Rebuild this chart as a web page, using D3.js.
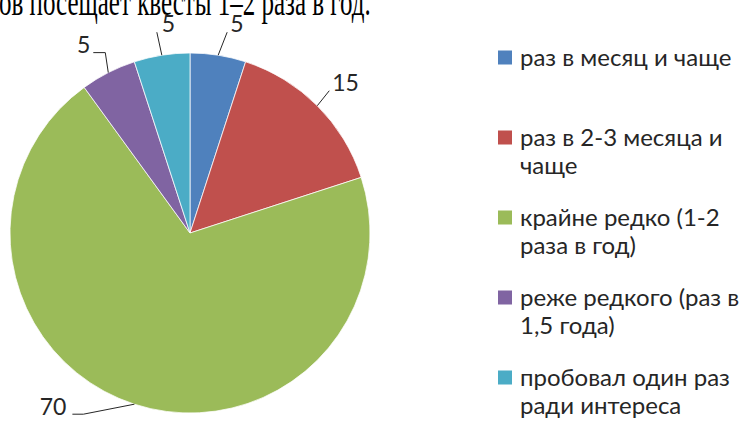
<!DOCTYPE html>
<meta charset="utf-8">
<style>
body { margin: 0; background: #fff; }
svg text { font-family: Lato, "Open Sans", sans-serif; fill: #262626; }
.caption { font-family: "Liberation Serif", "Times New Roman", serif; fill: #000; }
.leader { fill: none; stroke: #262626; stroke-width: 1; }
</style>
<body>
<script src="https://d3js.org/d3.v7.min.js"></script>
<script>
// data
var categories = ["раз в месяц и чаще", "раз в 2-3 месяца и чаще", "крайне редко (1-2 раза в год)",
                  "реже редкого (раз в 1,5 года)", "пробовал один раз ради интереса"];
var legendLines = [["раз в месяц и чаще"], ["раз в 2-3 месяца и", "чаще"], ["крайне редко (1-2", "раза в год)"],
                   ["реже редкого (раз в", "1,5 года)"], ["пробовал один раз", "ради интереса"]];
var values = [5, 15, 70, 5, 5];
var colors = ["#4F81BD", "#C0504D", "#9BBB59", "#8064A2", "#4BACC6"];
var caption = "ов посещает квесты 1–2 раза в год.";

var width = 749, height = 422;
var cx = 190, cy = 233, radius = 180;

var svg = d3.select("body").append("svg")
    .attr("width", width)
    .attr("height", height);

// cut-off line of text from the page above the chart
svg.append("text")
    .attr("class", "caption")
    .attr("transform", "translate(-1,15) scale(1,1.6)")
    .style("font-size", "25px")
    .text(caption);

var pie = d3.pie().sort(null).value(function(d) { return d; });
var arcs = pie(values);
var arc = d3.arc().innerRadius(0).outerRadius(radius);
var edgeArc = d3.arc().innerRadius(radius).outerRadius(radius);

var g = svg.append("g")
    .attr("transform", "translate(" + cx + "," + cy + ")");

g.selectAll("path.slice")
    .data(arcs)
  .enter().append("path")
    .attr("class", "slice")
    .attr("d", arc)
    .attr("fill", function(d, i) { return colors[i]; })
    .attr("stroke", "#fff")
    .attr("stroke-width", 0.75);

// leader lines: bend points relative to the slice edge, and where the label sits
var leaders = [
  {pts: [[9, -23]], tx: 12, ty: -23, anchor: "start"},
  {pts: [[12, -15]], tx: 15, ty: -15, anchor: "start"},
  {pts: [[-51, 10], [-62, 10]], tx: -68, ty: 11, anchor: "end"},
  {pts: [[-3, -20], [-15, -20]], tx: -18, ty: -20, anchor: "end"},
  {pts: [[-5, -23]], tx: 0, ty: -23, anchor: "start"}
];

arcs.forEach(function(d, i) {
  var e = edgeArc.centroid(d);
  var L = leaders[i];
  var line = [e].concat(L.pts.map(function(p) { return [e[0] + p[0], e[1] + p[1]]; }));
  g.append("path")
      .attr("class", "leader")
      .attr("d", d3.line()(line));
  g.append("text")
      .attr("x", e[0] + L.tx)
      .attr("y", e[1] + L.ty)
      .attr("text-anchor", L.anchor)
      .style("font-size", "23px")
      .text(values[i]);
});

// legend
var legend = svg.append("g").attr("transform", "translate(498,0)");
var ly = d3.scaleLinear().domain([0, 4]).range([65.5, 385.5]);

legendLines.forEach(function(lines, i) {
  var y = ly(i);
  legend.append("rect")
      .attr("x", 0)
      .attr("y", y - 15)
      .attr("width", 14)
      .attr("height", 14)
      .attr("fill", colors[i]);
  var t = legend.append("text")
      .attr("x", 22)
      .attr("y", y)
      .style("font-size", "24px");
  lines.forEach(function(s, j) {
    t.append("tspan")
        .attr("x", 22)
        .attr("y", y + j * 28)
        .text(s);
  });
});
</script>
</body>
